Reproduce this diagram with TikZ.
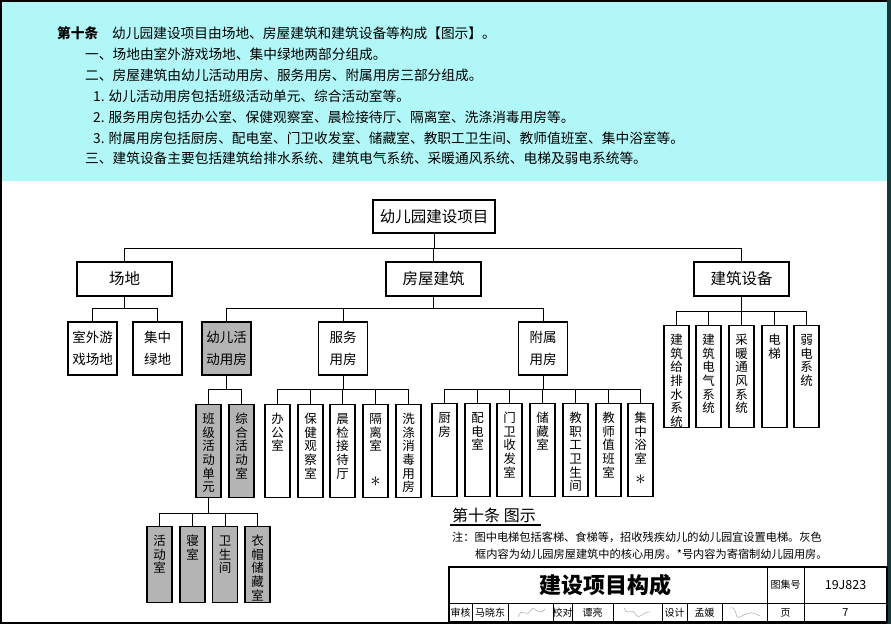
\documentclass[tikz,border=0pt]{standalone}
\usepackage{fontspec}
\setmainfont{Noto Sans CJK SC}
\usepackage{xcolor}
\usepackage{tikz}

\definecolor{bandcyan}{RGB}{178,247,248}
\definecolor{coregray}{RGB}{180,180,180}
\definecolor{edgeteal}{RGB}{25,55,55}

\newcommand\bigast{{\fontsize{21}{21}\selectfont$\ast$}}

\tikzset{
  para/.style={anchor=west, inner sep=0pt, font=\fontsize{13.7}{16}\selectfont},
  box/.style={draw, line width=1.3pt, fill=white, inner sep=0pt, align=center},
  topbox/.style={box, minimum width=95pt, minimum height=34pt, font=\fontsize{15.5}{18}\selectfont},
  pair/.style={box, minimum width=49pt, minimum height=53pt, font=\fontsize{13.5}{22}\selectfont},
  vbox/.style={draw, line width=1.3pt, fill=white, anchor=north, text width=25pt,
    inner xsep=0pt, inner ysep=0pt, align=center, text height=19pt,
    font=\fontsize{12.5}{13.6}\selectfont},
  core/.style={fill=coregray},
  link/.style={line width=0.9pt},
  small/.style={inner sep=0pt, font=\fontsize{10}{12}\selectfont},
}

\begin{document}
\begin{tikzpicture}[x=1pt,y=-1pt]
\useasboundingbox (0,0) rectangle (891,624);

% header band and sheet frame
\fill[bandcyan] (0,0) rectangle (887,181);
\draw[line width=2pt] (888,1) -- (1,1) -- (1,623) -- (888,623);
\draw[edgeteal, line width=4pt] (889,0) -- (889,624);

% article text
\node[para, font=\fontsize{13.7}{16}\selectfont\bfseries] (art) at (57,33) {第十条};
\node[para] (t1) at (112,33) {幼儿园建设项目由场地、房屋建筑和建筑设备等构成【图示】。};
\node[para] (t2) at (85,54) {一、场地由室外游戏场地、集中绿地两部分组成。};
\node[para] (t3) at (85,75) {二、房屋建筑由幼儿活动用房、服务用房、附属用房三部分组成。};
\node[para] (t4) at (93,96) {1. 幼儿活动用房包括班级活动单元、综合活动室等。};
\node[para] (t5) at (93,117) {2. 服务用房包括办公室、保健观察室、晨检接待厅、隔离室、洗涤消毒用房等。};
\node[para] (t6) at (93,138) {3. 附属用房包括厨房、配电室、门卫收发室、储藏室、教职工卫生间、教师值班室、集中浴室等。};
\node[para] (t7) at (85,158) {三、建筑设备主要包括建筑给排水系统、建筑电气系统、采暖通风系统、电梯及弱电系统等。};

% tree
\node[box, minimum width=122pt, minimum height=33pt, font=\fontsize{15.5}{18}\selectfont] (root) at (434,216.5) {幼儿园建设项目};
\node[topbox] (changdi) at (124.5,279) {场地};
\node[topbox] (fangwu) at (433.5,279) {房屋建筑};
\node[topbox] (shebei) at (741.5,279) {建筑设备};

\node[pair] (shiwai) at (92.5,348.5) {室外游\\戏场地};
\node[pair] (lvdi) at (157.5,348.5) {集中\\绿地};
\node[pair, core] (youer) at (226.5,348.5) {幼儿活\\动用房};
\node[pair] (fuwu) at (343,348.5) {服务\\用房};
\node[pair] (fushu) at (543,348.5) {附属\\用房};

\foreach \n/\x/\t in {jps/676.5/{建\\筑\\给\\排\\水\\系\\统}, dq/708.5/{建\\筑\\电\\气\\系\\统},
    nt/741.5/{采\\暖\\通\\风\\系\\统}, dt/774.5/{电\\梯}, rd/806.5/{弱\\电\\系\\统}}
  \node[vbox, text depth=83pt] (\n) at (\x,325) {\t};

\node[vbox, core, text depth=74pt] (banji) at (208.5,404) {班\\级\\活\\动\\单\\元};
\node[vbox, core, text depth=74pt] (zonghe) at (241.5,404) {综\\合\\活\\动\\室};

\foreach \n/\x/\t in {bgs/277.5/{办\\公\\室}, bj/310.5/{保\\健\\观\\察\\室}, cj/342.5/{晨\\检\\接\\待\\厅},
    gl/375.5/{隔\\离\\室\\[22pt]\bigast}, xd/408.5/{洗\\涤\\消\\毒\\用\\房}}
  \node[vbox, text depth=74pt] (\n) at (\x,404) {\t};

\foreach \n/\x/\t in {cf/444.5/{厨\\房}, pd/477.5/{配\\电\\室}, mw/509.5/{门\\卫\\收\\发\\室},
    cc/542.5/{储\\藏\\室}, jz/575.5/{教\\职\\工\\卫\\生\\间}, zb/608.5/{教\\师\\值\\班\\室},
    ys/640.5/{集\\中\\浴\\室\\[7pt]\bigast}}
  \node[vbox, text depth=74pt] (\n) at (\x,403) {\t};

\foreach \n/\x/\t in {hds/159.5/{活\\动\\室}, qs/192.5/{寝\\室}, wsj/225/{卫\\生\\间}, ymc/257.5/{衣\\帽\\储\\藏\\室}}
  \node[vbox, core, text depth=57pt] (\n) at (\x,526) {\t};

% connectors
\draw[link] (root.south) -- ++(0,15) coordinate (b0);
\draw[link] (changdi.north) |- (b0) -| (shebei.north);
\draw[link] (fangwu.north) -- (fangwu.north |- b0);

\draw[link] (changdi.south) -- ++(0,12) coordinate (b1);
\draw[link] (shiwai.north) |- (b1) -| (lvdi.north);

\draw[link] (fangwu.south) -- ++(0,12) coordinate (b2);
\draw[link] (youer.north) |- (b2) -| (fushu.north);
\draw[link] (fuwu.north) -- (fuwu.north |- b2);

\draw[link] (shebei.south) -- ++(0,15) coordinate (b3);
\draw[link] (jps.north) |- (b3) -| (rd.north);
\foreach \n in {dq,nt,dt} \draw[link] (\n.north) -- (\n.north |- b3);

\draw[link] (youer.south) -- ++(0,14) coordinate (b4);
\draw[link] (banji.north) |- (b4) -| (zonghe.north);

\draw[link] (fuwu.south) -- ++(0,14) coordinate (b5);
\draw[link] (bgs.north) |- (b5) -| (xd.north);
\foreach \n in {bj,cj,gl} \draw[link] (\n.north) -- (\n.north |- b5);

\draw[link] (fushu.south) -- ++(0,14) coordinate (b6);
\draw[link] (cf.north) |- (b6) -| (ys.north);
\foreach \n in {pd,mw,cc,jz,zb} \draw[link] (\n.north) -- (\n.north |- b6);

\draw[link] (banji.south) -- ++(0,15) coordinate (b7);
\draw[link] (hds.north) |- (b7) -| (ymc.north);
\foreach \n in {qs,wsj} \draw[link] (\n.north) -- (\n.north |- b7);

% caption and note
\node[anchor=west, inner sep=0pt, font=\fontsize{16}{18}\selectfont] (cap) at (452,515) {第十条\ 图示};
\draw[line width=1.3pt] (450,525) -- (541,525);
\node[anchor=west, inner sep=0pt, font=\fontsize{11.2}{13}\selectfont] (n1) at (452,537) {注：图中电梯包括客梯、食梯等，招收残疾幼儿的幼儿园宜设置电梯。灰色};
\node[anchor=west, inner sep=0pt, font=\fontsize{11.2}{13}\selectfont] (n2) at (475,554) {框内容为幼儿园房屋建筑中的核心用房。*号内容为寄宿制幼儿园用房。};

% title block
\draw[line width=1.3pt] (449,567) rectangle (887,622);
\draw[line width=0.8pt] (449,603.5) -- (887,603.5);
\foreach \x in {767,804} \draw[line width=0.8pt] (\x,567) -- (\x,622);
\foreach \x in {472,508,553,572,613,662,687,722} \draw[line width=0.8pt] (\x,603.5) -- (\x,622);
\node[font=\fontsize{22}{24}\selectfont\bfseries] (title) at (605,585) {建设项目构成};
\node[small] (tjh) at (785.5,585) {图集号};
\node[inner sep=0pt, font=\fontsize{12.5}{14}\selectfont] (tjno) at (845.5,585) {19J823};
\node[small] (sh) at (460.5,613) {审核};
\node[small] (shn) at (490,613) {马晓东};
\node[small] (jd) at (562.5,613) {校对};
\node[small] (jdn) at (592.5,613) {谭亮};
\node[small] (sj) at (674.5,613) {设计};
\node[small] (sjn) at (704.5,613) {孟媛};
\node[small] (ye) at (785.5,613) {页};
\node[inner sep=0pt, font=\fontsize{11}{13}\selectfont] (yeno) at (845.5,613) {7};

% signatures
\draw[gray!70, line width=0.5pt] (518,617) .. controls (522,606) and (526,619) .. (531,610)
  .. controls (535,604) and (538,618) .. (545,609);
\draw[gray!70, line width=0.5pt] (624,608) .. controls (628,618) and (632,606) .. (636,615)
  .. controls (640,620) and (645,610) .. (650,612);
\draw[gray!70, line width=0.5pt] (730,608) .. controls (738,606) and (734,620) .. (740,617)
  .. controls (746,614) and (750,610) .. (760,616);
\end{tikzpicture}
\end{document}
